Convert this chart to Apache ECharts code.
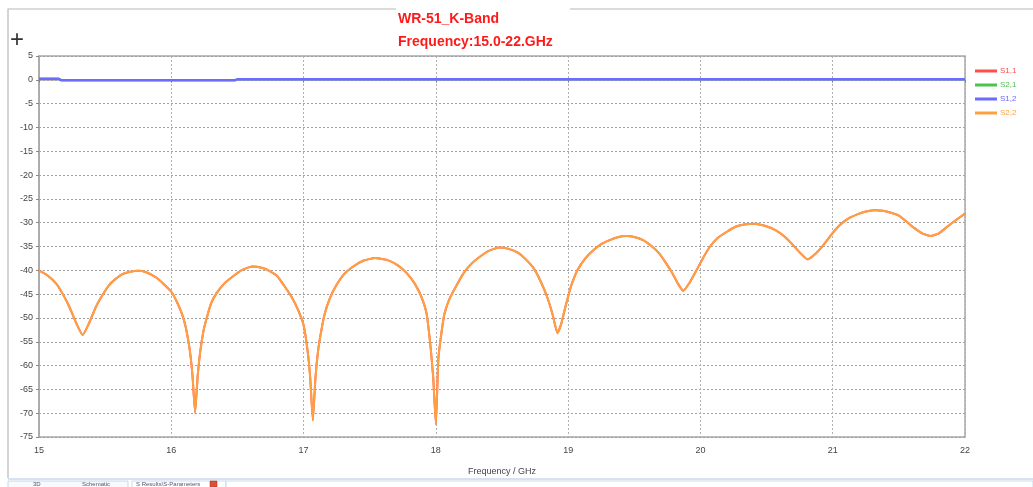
<!DOCTYPE html>
<html>
<head>
<meta charset="utf-8">
<script src="https://cdn.jsdelivr.net/npm/echarts@6/dist/echarts.min.js"></script>
<style>
html,body{margin:0;padding:0;background:#fff;}
#chart{width:1033px;height:487px;}
</style>
</head>
<body>
<div id="chart"></div>
<script>
// ---- data ----
const titleLines = ['WR-51_K-Band', 'Frequency:15.0-22.GHz'];
const seriesNames = ['S1,1', 'S2,1', 'S1,2', 'S2,2'];
const xTicks = [15, 16, 17, 18, 19, 20, 21, 22];

const freqS22 = [
  15.00,15.06,15.13,15.18,15.23,15.28,15.33,15.38,15.43,15.48,15.53,15.58,15.63,15.69,15.75,15.81,15.88,15.94,
  16.00,16.04,16.08,16.11,16.14,16.16,16.18,16.20,16.22,16.245,16.27,16.30,16.34,16.40,16.46,16.53,16.61,16.69,16.74,16.80,16.86,16.91,16.96,
  17.00,17.03,17.05,17.07,17.09,17.11,17.135,17.16,17.20,17.24,17.30,17.37,17.45,17.54,17.63,17.71,17.78,17.84,17.89,17.93,17.96,17.98,
  18.00,18.02,18.06,18.10,18.15,18.21,18.27,18.34,18.40,18.48,18.55,18.62,18.68,18.74,18.79,18.84,18.88,18.92,18.95,18.98,
  19.02,19.07,19.13,19.19,19.25,19.32,19.38,19.44,19.50,19.57,19.63,19.69,19.74,19.79,19.83,19.87,19.92,19.97,
  20.02,20.07,20.13,20.20,20.27,20.33,20.40,20.48,20.57,20.64,20.70,20.76,20.81,20.87,20.93,20.99,
  21.05,21.12,21.20,21.26,21.32,21.38,21.44,21.50,21.56,21.62,21.68,21.74,21.80,21.85,21.92,22.00
];
const s22 = [
  -40.0,-41.0,-42.8,-45.0,-47.7,-51.0,-53.6,-51.0,-47.7,-45.2,-43.1,-41.8,-40.8,-40.3,-40.1,-40.4,-41.4,-42.8,
  -44.5,-46.5,-49.1,-52.0,-56.8,-62.0,-69.9,-62.0,-56.8,-52.5,-49.8,-47.0,-44.9,-42.8,-41.4,-40.0,-39.2,-39.5,-40.1,-41.2,-43.5,-45.6,-48.4,
  -51.5,-56.8,-62.5,-71.5,-62.5,-56.8,-52.5,-49.1,-45.8,-43.5,-41.0,-39.3,-38.0,-37.4,-37.8,-38.9,-40.6,-42.8,-45.5,-49.1,-56.1,-62.5,
  -72.3,-58.2,-49.8,-46.2,-43.5,-40.6,-38.6,-37.0,-35.9,-35.2,-35.5,-36.3,-37.7,-39.6,-42.2,-45.5,-49.0,-53.2,-51.0,-47.6,
  -43.5,-40.0,-37.5,-35.8,-34.5,-33.6,-33.0,-32.8,-33.0,-33.7,-34.9,-36.5,-38.5,-40.7,-42.8,-44.3,-42.5,-40.0,
  -37.4,-35.1,-33.2,-31.9,-30.8,-30.4,-30.2,-30.6,-31.6,-33.0,-34.7,-36.5,-37.7,-36.5,-34.7,-32.5,
  -30.6,-29.1,-28.1,-27.6,-27.4,-27.5,-27.9,-28.5,-29.8,-31.2,-32.3,-32.8,-32.3,-31.2,-29.7,-28.1
];
const freqS12 = [15.00, 15.15, 15.17, 16.48, 16.50, 22.00];
const s12 = [0.2, 0.2, -0.1, -0.1, 0.1, 0.1];

// S1,1 / S2,1 are hidden beneath S2,2 / S1,2 in the picture
const s11 = s22.slice();
const freqS11 = freqS22.slice();
const s21 = s12.slice();
const freqS21 = freqS12.slice();

const colors = ['#ff4d4d', '#4cc44c', '#6b6bff', '#ffa040'];

function pairs(xs, ys) { return xs.map((x, i) => [x, ys[i]]); }

const chart = echarts.init(document.getElementById('chart'), null, { renderer: 'canvas' });
const fam = '"Liberation Sans", Arial, sans-serif';

const option = {
  animation: false,
  backgroundColor: '#fff',
  grid: { left: 39, right: 68, top: 56, bottom: 50, show: true, borderColor: '#a8a8a8', borderWidth: 1.5, backgroundColor: 'transparent' },
  legend: {
    orient: 'vertical', left: 970, top: 62, itemWidth: 22, itemHeight: 3, itemGap: 6,
    icon: 'rect',
    data: seriesNames.map((n, i) => ({ name: n, textStyle: { color: colors[i] } })),
    textStyle: { fontSize: 8, fontFamily: fam, padding: [0, 0, 0, -2] }
  },
  xAxis: {
    type: 'value', min: 15, max: 22, interval: 1,
    name: 'Frequency / GHz', nameLocation: 'middle', nameGap: 30,
    nameTextStyle: { fontSize: 9, color: '#444', fontFamily: fam },
    axisLine: { show: true, lineStyle: { color: '#a8a8a8', width: 1.5 } },
    axisTick: { show: true, length: 3, lineStyle: { color: '#888' } },
    axisLabel: { fontSize: 9, color: '#444', margin: 9, fontFamily: fam,
      formatter: v => xTicks.includes(v) ? String(v) : '' },
    splitLine: { show: true, lineStyle: { color: '#b0b0b0', type: [2, 2], width: 1 } }
  },
  yAxis: {
    type: 'value', min: -75, max: 5, interval: 5,
    axisLine: { show: true, lineStyle: { color: '#a8a8a8', width: 1.5 } },
    axisTick: { show: true, length: 3, lineStyle: { color: '#888' } },
    axisLabel: { fontSize: 9, color: '#444', margin: 6, fontFamily: fam },
    splitLine: { show: true, lineStyle: { color: '#a0a0a0', type: [2, 2], width: 1 } }
  },
  series: [
    { name: seriesNames[0], type: 'line', data: pairs(freqS11, s11), showSymbol: false, smooth: 0.15, lineStyle: { color: colors[0], width: 2 }, itemStyle: { color: colors[0] } },
    { name: seriesNames[1], type: 'line', data: pairs(freqS21, s21), showSymbol: false, lineStyle: { color: colors[1], width: 2 }, itemStyle: { color: colors[1] } },
    { name: seriesNames[2], type: 'line', data: pairs(freqS12, s12), showSymbol: false, lineStyle: { color: colors[2], width: 2.5 }, itemStyle: { color: colors[2] } },
    { name: seriesNames[3], type: 'line', data: pairs(freqS22, s22), showSymbol: false, smooth: 0.15, lineStyle: { color: colors[3], width: 2, join: 'round' }, itemStyle: { color: colors[3] } }
  ],
  graphic: [
    // outer frame
    { type: 'polyline', shape: { points: [[8, 478], [8, 9], [396, 9]] }, style: { stroke: '#b8b8b8', lineWidth: 1.2, fill: null }, silent: true },
    { type: 'line', shape: { x1: 570, y1: 9, x2: 1033, y2: 9 }, style: { stroke: '#b8b8b8', lineWidth: 1.2 }, silent: true },
    { type: 'line', shape: { x1: 8, y1: 479, x2: 1033, y2: 479 }, style: { stroke: '#c9d9ea', lineWidth: 1.5 }, silent: true },
    // title
    { type: 'text', left: 398, top: 12, style: { text: titleLines[0], fill: '#ff1a1a', font: 'bold 14px ' + fam } },
    { type: 'text', left: 398, top: 35, style: { text: titleLines[1], fill: '#ff1a1a', font: 'bold 14px ' + fam } },
    // cursor cross
    { type: 'text', left: 10, top: 28, style: { text: '+', fill: '#333', font: '24px ' + fam } },
    // bottom tabs
    { type: 'rect', shape: { x: 8, y: 481, width: 120, height: 8 }, style: { fill: '#f7f9fc', stroke: '#c9d9ea', lineWidth: 1 }, silent: true },
    { type: 'rect', shape: { x: 132, y: 481, width: 94, height: 8 }, style: { fill: '#fff', stroke: '#c9d9ea', lineWidth: 1 }, silent: true },
    { type: 'rect', shape: { x: 226, y: 481, width: 807, height: 8 }, style: { fill: '#fff', stroke: '#c9d9ea', lineWidth: 1 }, silent: true },
    { type: 'text', left: 33, top: 481, style: { text: '3D', fill: '#557', font: '6px ' + fam } },
    { type: 'text', left: 82, top: 481, style: { text: 'Schematic', fill: '#557', font: '6px ' + fam } },
    { type: 'text', left: 136, top: 481, style: { text: 'S Results\\S-Parameters', fill: '#557', font: '6px ' + fam } },
    { type: 'rect', shape: { x: 210, y: 481, width: 7, height: 6 }, style: { fill: '#e05030', stroke: '#a03020', lineWidth: 0.5 }, silent: true }
  ]
};
chart.setOption(option);
</script>
</body>
</html>
